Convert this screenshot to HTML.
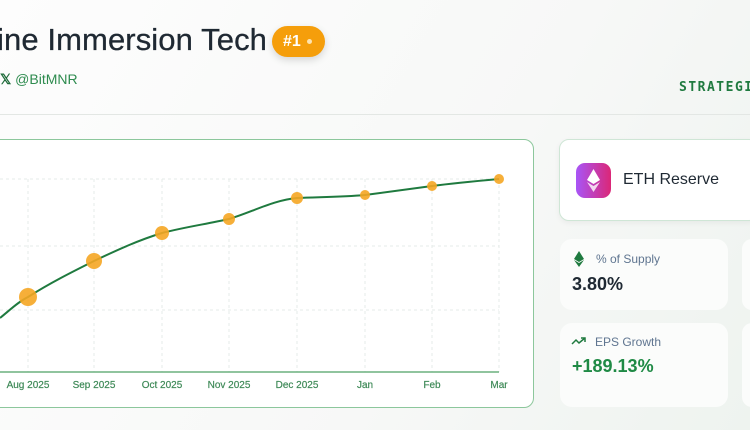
<!DOCTYPE html>
<html><head><meta charset="utf-8"><style>
body{margin:0;width:750px;height:430px;overflow:hidden;background:linear-gradient(120deg,#fdfdfd 0%,#f7f8f7 60%,#eef3ef 100%);font-family:"Liberation Sans",sans-serif;position:relative}
.abs{position:absolute}
.card{position:absolute;background:#fbfcfb;border-radius:12px}
</style></head><body>
<div class="abs" style="left:-3px;top:22px;font-size:31px;color:#1f2933;letter-spacing:0.1px;-webkit-text-stroke:0.3px #1f2933;white-space:nowrap">ine Immersion Tech</div>
<div class="abs" style="left:272px;top:26px;width:53px;height:31px;border-radius:16px;background:#f59e0b;box-shadow:0 3px 8px rgba(0,0,0,.15);color:#fff;font-weight:bold;font-size:16px;line-height:31px;padding-left:11px;box-sizing:border-box">#1<span style="display:inline-block;width:5px;height:5px;border-radius:50%;background:#fde3b0;margin-left:6px;vertical-align:middle"></span></div>
<div class="abs" style="left:0;top:71px;font-size:14px;color:#2e8b4f"><b style="color:#1f6b3a">𝕏</b> @BitMNR</div>
<div class="abs" style="left:679px;top:80px;font-size:13px;color:#1f7a3f;font-weight:bold;letter-spacing:1.5px;font-family:'DejaVu Sans Mono',monospace">STRATEGI</div>
<div class="abs" style="left:0;top:114px;width:750px;height:1px;background:#e3e7e4"></div>
<div class="abs" style="left:-10px;top:139px;width:544px;height:269px;border:1.5px solid #8cc79c;border-radius:10px;background:#fff;box-sizing:border-box"></div>
<svg class="abs" style="left:0;top:0" width="750" height="430">
<g stroke="#e6ebe8" stroke-dasharray="3,3" stroke-width="1">
<line x1="0" y1="179" x2="499" y2="179"/><line x1="0" y1="246" x2="499" y2="246"/><line x1="0" y1="310" x2="499" y2="310"/>
<line x1="28" y1="179" x2="28" y2="372"/><line x1="94" y1="179" x2="94" y2="372"/><line x1="162" y1="179" x2="162" y2="372"/><line x1="229" y1="179" x2="229" y2="372"/><line x1="297" y1="179" x2="297" y2="372"/><line x1="365" y1="179" x2="365" y2="372"/><line x1="432" y1="179" x2="432" y2="372"/><line x1="499" y1="179" x2="499" y2="372"/>
</g>
<line x1="0" y1="372" x2="499" y2="372" stroke="#6bb07f" stroke-width="1.5"/>
<path d="M0,318 C10,310 18,302 28,297 C50,283 72,272 94,261 C117,250 139,240 162,233 C185,227 207,224 229,219 C252,212 274,200 297,198 C320,197 342,197 365,195 C388,192 410,189 432,186 C455,183 477,181 499,179" fill="none" stroke="#1f7a3f" stroke-width="2"/>
<g fill="#f5a623" fill-opacity=".9">
<circle cx="28" cy="297" r="9"/><circle cx="94" cy="261" r="8"/><circle cx="162" cy="233" r="7"/><circle cx="229" cy="219" r="6"/><circle cx="297" cy="198" r="6"/><circle cx="365" cy="195" r="5"/><circle cx="432" cy="186" r="5"/><circle cx="499" cy="179" r="5"/>
</g>
<g font-size="10" fill="#3f8a58" text-anchor="middle" font-family="Liberation Sans" stroke="#3f8a58" stroke-width="0.2">
<text x="28" y="388">Aug 2025</text><text x="94" y="388">Sep 2025</text><text x="162" y="388">Oct 2025</text><text x="229" y="388">Nov 2025</text><text x="297" y="388">Dec 2025</text><text x="365" y="388">Jan</text><text x="432" y="388">Feb</text><text x="499" y="388">Mar</text>
</g>
<g transform="translate(593,180)"><polygon points="0,-11 7,1 0,5 -7,1" fill="#fff"/><polygon points="0,7 7,3 0,12 -7,3" fill="#fff" fill-opacity=".8"/></g>
<g transform="translate(579,258)"><polygon points="0,-7 5,1 0,4 -5,1" fill="#1f7a3f"/><polygon points="0,5 5,2 0,9 -5,2" fill="#1f7a3f"/></g>
</svg>
<div class="abs" style="left:559px;top:139px;width:200px;height:82px;background:#fff;border:1px solid #cfe6d6;border-radius:10px;box-shadow:0 2px 6px rgba(0,0,0,.05);box-sizing:border-box"></div>
<div class="abs" style="left:576px;top:163px;width:35px;height:35px;border-radius:9px;background:linear-gradient(90deg,#a855f7,#db2777)"></div>
<svg class="abs" style="left:576px;top:163px" width="35" height="35"><polygon points="17.5,6 24,17 17.5,21 11,17" fill="#fff"/><polygon points="17.5,23 24,19 17.5,29 11,19" fill="#fff" fill-opacity=".8"/></svg>
<div class="abs" style="left:623px;top:171px;font-size:16px;color:#1f2933">ETH Reserve</div>
<div class="card" style="left:560px;top:239px;width:168px;height:71px"></div>
<div class="card" style="left:742px;top:239px;width:20px;height:71px"></div>
<svg class="abs" style="left:573px;top:250px" width="12" height="18"><polygon points="6,1 11,9 6,12 1,9" fill="#1f7a3f"/><polygon points="6,13 11,10 6,17 1,10" fill="#1f7a3f"/></svg>
<div class="abs" style="left:596px;top:252px;font-size:12px;color:#5f7590">% of Supply</div>
<div class="abs" style="left:572px;top:274px;font-size:18px;font-weight:bold;color:#1f2933">3.80%</div>
<div class="card" style="left:560px;top:323px;width:168px;height:84px"></div>
<div class="card" style="left:742px;top:323px;width:20px;height:84px"></div>
<svg class="abs" style="left:571px;top:336px" width="16" height="10"><polyline points="1,8 5,4 8,7 14,2" fill="none" stroke="#1f7a3f" stroke-width="1.5"/><polyline points="10,2 14,2 14,6" fill="none" stroke="#1f7a3f" stroke-width="1.5"/></svg>
<div class="abs" style="left:595px;top:335px;font-size:12px;color:#5f7590">EPS Growth</div>
<div class="abs" style="left:572px;top:356px;font-size:18px;font-weight:bold;color:#1f8a45">+189.13%</div>
</body></html>
